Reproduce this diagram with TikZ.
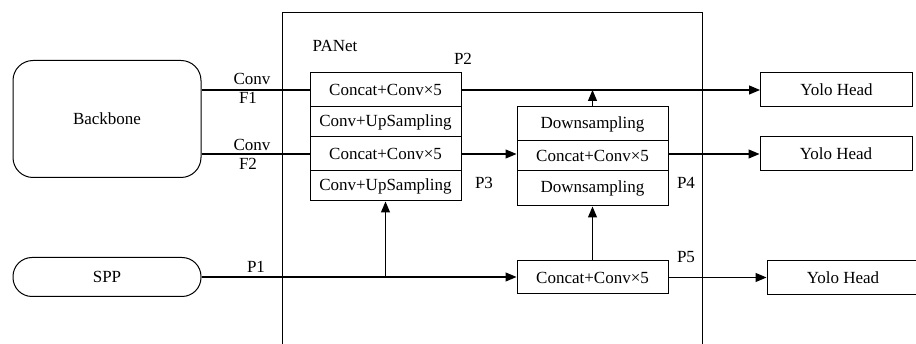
\documentclass[tikz,border=0pt]{standalone}
\usepackage{fontspec}
\setmainfont{Liberation Serif}
\newfontfamily\tnr{Liberation Serif}
\usetikzlibrary{arrows.meta}
\begin{document}
\begin{tikzpicture}[x=1pt,y=-1pt,
  every node/.style={font=\tnr\fontsize{17}{19}\selectfont},
  cell/.style={draw, line width=1pt, minimum width=151pt, inner sep=0pt, anchor=center},
  head/.style={draw, line width=1pt, minimum width=152pt, minimum height=34pt, inner sep=0pt},
  lab/.style={inner sep=0pt},
  arr/.style={line width=1.2pt, -{Triangle[length=11pt,width=9pt]}},
  ln/.style={line width=1.2pt}]
\useasboundingbox (0,0) rectangle (916,344);
% PANet frame
\draw[line width=1pt] (282,350) -- (282,13) -- (702,13) -- (702,350);
\node[lab] (panet) at (335,46) {PANet};
% inputs
\node[draw, line width=1pt, rounded corners=20pt, minimum width=188pt, minimum height=117pt] (bb) at (107,119) {Backbone};
\node[draw, line width=1pt, rounded corners=19pt, minimum width=188pt, minimum height=39pt] (spp) at (107,277) {SPP};
% left stack
\node[cell, minimum height=34pt] (c1) at (385.5,90) {Concat+Conv×5};
\node[cell, minimum height=30pt] (c2) at (385.5,122) {Conv+UpSampling};
\node[cell, minimum height=34pt] (c3) at (385.5,154) {Concat+Conv×5};
\node[cell, minimum height=30pt] (c4) at (385.5,186) {Conv+UpSampling};
% middle stack
\node[cell, minimum height=34pt] (m1) at (592.5,124) {Downsampling};
\node[cell, minimum height=30pt] (m2) at (592.5,156) {Concat+Conv×5};
\node[cell, minimum height=35pt] (m3) at (592.5,188.5) {Downsampling};
\node[cell, minimum height=33pt] (b5) at (592.5,277.5) {Concat+Conv×5};
% heads
\node[head] (y1) at (836.5,90) {Yolo Head};
\node[head] (y2) at (836,154) {Yolo Head};
\node[head] (y3) at (843,277.5) {Yolo Head};
% labels
\node[lab] (lc1) at (252,79) {Conv};
\node[lab] (lf1) at (248,98) {F1};
\node[lab] (lc2) at (252,145) {Conv};
\node[lab] (lf2) at (248,164) {F2};
\node[lab] (lp1) at (256,267) {P1};
\node[lab] (lp2) at (463,59) {P2};
\node[lab] (lp3) at (484,183) {P3};
\node[lab] (lp4) at (686,183) {P4};
\node[lab] (lp5) at (686,257) {P5};
% connectors
\draw[ln] (c1.west -| bb.east) -- (c1.west);
\draw[ln] (c3.west -| bb.east) -- (c3.west);
\draw[arr] (spp.east) -- (spp.east -| b5.west);
\coordinate (j) at (c4.south |- spp.east);
\draw[arr] (j) -- (c4.south);
\draw[arr] (c1.east) -- (y1.west);
\draw[arr] (m1.north) -- (m1.north |- c1.east);
\draw[arr] (c3.east) -- (c3.east -| m2.west);
\draw[arr] (c3.east -| m2.east) -- (y2.west);
\draw[arr] (b5.north) -- (m3.south);
\draw[arr] (b5.east) -- (y3.west);
\end{tikzpicture}
\end{document}
